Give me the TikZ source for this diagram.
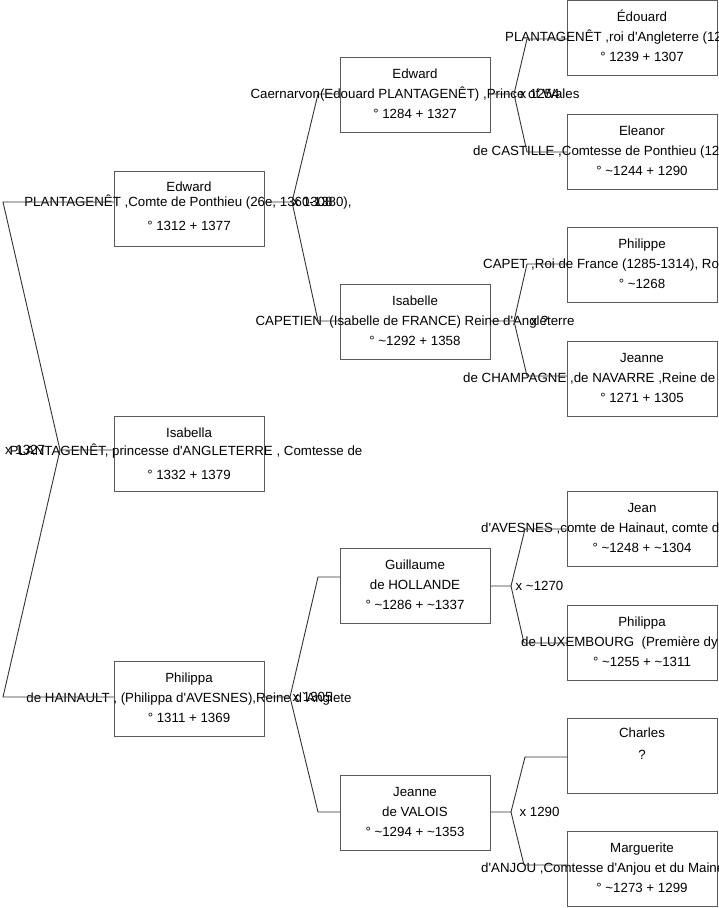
\documentclass[tikz,border=0pt]{standalone}
\usepackage{fontspec}
\setmainfont{Liberation Sans}[Ligatures=TeXOff]
\usetikzlibrary{calc}
\definecolor{boxgray}{HTML}{5A5A5A}
\definecolor{linegray}{HTML}{333333}
\tikzset{
  pbox/.style={draw=boxgray, line width=0.9pt, minimum width=150pt, minimum height=75pt, inner sep=0pt, anchor=north west},
  ptxt/.style={font=\fontsize{13.3}{16}\selectfont, inner sep=0pt, anchor=base, text=black},
  ptxtw/.style={ptxt, anchor=base west},
  conn/.style={draw=linegray, line width=0.9pt},
}
% name, left x, top y, line1, line2, line3
\newcommand\Pbox[6]{%
  \node[pbox] (#1) at (#2,#3) {};
  \node[ptxt] (#1-a) at ({#2+75},{#3+21.7}) {#4};
  \node[ptxt] (#1-b) at ({#2+75},{#3+41.7}) {#5};
  \node[ptxt] (#1-c) at ({#2+75},{#3+61.7}) {#6};
}
% name, left x, top y, line1, start x of line2, line2, line3
\newcommand\PboxW[7]{%
  \node[pbox] (#1) at (#2,#3) {};
  \node[ptxt] (#1-a) at ({#2+75},{#3+21.7}) {#4};
  \node[ptxtw] (#1-b) at (#5,{#3+41.7}) {#6};
  \node[ptxt] (#1-c) at ({#2+75},{#3+61.7}) {#7};
}
\begin{document}
\begin{tikzpicture}[x=1pt,y=-1pt]
\useasboundingbox (0,0) rectangle (719,908);
% generation 1
\node[pbox] (E1) at (114,171) {};
\node[ptxt] (E1-a) at (189,191.2) {Edward};
\node[ptxt] (E1-b) at (188,206.7) {PLANTAGENÊT ,Comte de Ponthieu (26e, 1360-1380),};
\node[ptxt] (E1-c) at (189,230.5) {° 1312 + 1377};
\node[pbox] (I1) at (114,416) {};
\node[ptxt] (I1-a) at (189,437.7) {Isabella};
\node[ptxt] (I1-b) at (186,455.7) {PLANTAGENÊT, princesse d'ANGLETERRE , Comtesse de};
\node[ptxt] (I1-c) at (189,479.7) {° 1332 + 1379};
\Pbox{P1}{114}{661}{Philippa}{de HAINAULT , (Philippa d'AVESNES),Reine d`Anglete}{° 1311 + 1369}
% generation 2
\Pbox{E2}{340}{57}{Edward}{Caernarvon(Edouard PLANTAGENÊT) ,Prince of Wales}{° 1284 + 1327}
\Pbox{I2}{340}{284}{Isabelle}{CAPETIEN\ \ (Isabelle de FRANCE) Reine d'Angleterre}{° \textasciitilde 1292 + 1358}
\Pbox{G2}{340}{548}{Guillaume}{de HOLLANDE}{° \textasciitilde 1286 + \textasciitilde 1337}
\Pbox{J2}{340}{775}{Jeanne}{de VALOIS}{° \textasciitilde 1294 + \textasciitilde 1353}
% generation 3
\PboxW{E3}{567}{0}{Édouard}{505}{PLANTAGENÊT ,roi d'Angleterre (12}{° 1239 + 1307}
\PboxW{L3}{567}{114}{Eleanor}{473}{de CASTILLE ,Comtesse de Ponthieu (12}{° \textasciitilde 1244 + 1290}
\PboxW{F3}{567}{227}{Philippe}{483}{CAPET ,Roi de France (1285-1314), Ro}{° \textasciitilde 1268}
\PboxW{N3}{567}{341}{Jeanne}{463}{de CHAMPAGNE ,de NAVARRE ,Reine de}{° 1271 + 1305}
\PboxW{A3}{567}{491}{Jean}{481}{d'AVESNES ,comte de Hainaut, comte d'}{° \textasciitilde 1248 + \textasciitilde 1304}
\PboxW{X3}{567}{605}{Philippa}{521}{de LUXEMBOURG\ \ (Première dy}{° \textasciitilde 1255 + \textasciitilde 1311}
\node[pbox] (C3) at (567,718) {};
\node[ptxt] (C3-a) at (642,737.7) {Charles};
\node[ptxt] (C3-b) at (642,759.7) {?};
\PboxW{M3}{567}{831}{Marguerite}{481}{d'ANJOU ,Comtesse d'Anjou et du Maine}{° \textasciitilde 1273 + 1299}
% connectors: root
\coordinate (r0) at (60,450);
\coordinate (r1) at (3,202);
\coordinate (r2) at (3,697);
\draw[conn] (I1.west |- r0) -- (r0) -- (r1) -- (E1.west |- r1);
\draw[conn] (r0) -- (r2) -- (P1.west |- r2);
\node[ptxt] (m0) at (25,454.6) {x 1327};
% Edward gen1
\coordinate (e0) at (292,202);
\coordinate (e1) at (318,94);
\coordinate (e2) at (318,321);
\draw[conn] (E1.east |- e0) -- (e0) -- (e1) -- (E2.west |- e1);
\draw[conn] (e0) -- (e2) -- (I2.west |- e2);
\node[ptxt] (m1) at (312.5,206.6) {x 1308};
% Philippa gen1
\coordinate (p0) at (290,697);
\coordinate (p1) at (318,577);
\coordinate (p2) at (318,812);
\draw[conn] (P1.east |- p0) -- (p0) -- (p1) -- (G2.west |- p1);
\draw[conn] (p0) -- (p2) -- (J2.west |- p2);
\node[ptxt] (m2) at (312.5,701.6) {x 1305};
% Edward gen2
\coordinate (f0) at (514,94);
\coordinate (f1) at (527,39);
\coordinate (f2) at (527,152);
\draw[conn] (E2.east |- f0) -- (f0) -- (f1) -- (E3.west |- f1);
\draw[conn] (f0) -- (f2) -- (L3.west |- f2);
\node[ptxt] (m3) at (539.5,98.6) {x 1254};
% Isabelle gen2
\coordinate (g0) at (514,321);
\coordinate (g1) at (527,264);
\coordinate (g2) at (527,376);
\draw[conn] (I2.east |- g0) -- (g0) -- (g1) -- (F3.west |- g1);
\draw[conn] (g0) -- (g2) -- (N3.west |- g2);
\node[ptxt] (m4) at (539.5,325.6) {x ?};
% Guillaume gen2
\coordinate (h0) at (511,586);
\coordinate (h1) at (525,529);
\coordinate (h2) at (524,643);
\draw[conn] (G2.east |- h0) -- (h0) -- (h1) -- (A3.west |- h1);
\draw[conn] (h0) -- (h2) -- (X3.west |- h2);
\node[ptxt] (m5) at (539.5,590.6) {x \textasciitilde 1270};
% Jeanne gen2
\coordinate (k0) at (511,812);
\coordinate (k1) at (525,757);
\coordinate (k2) at (524,865);
\draw[conn] (J2.east |- k0) -- (k0) -- (k1) -- (C3.west |- k1);
\draw[conn] (k0) -- (k2) -- (M3.west |- k2);
\node[ptxt] (m6) at (539.5,816.6) {x 1290};
\end{tikzpicture}
\end{document}
